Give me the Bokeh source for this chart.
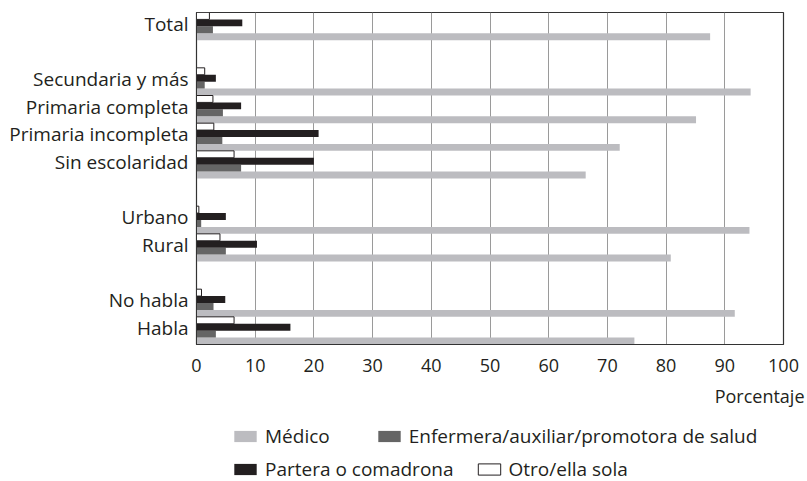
from bokeh.plotting import figure
from bokeh.layouts import column
from bokeh.models import (ColumnDataSource, Range1d, FixedTicker, Legend, LegendItem, Title)
from bokeh.embed import file_html
from bokeh.resources import INLINE

# ---- data ----
groups = [
    ["Total"],
    ["Secundaria y más", "Primaria completa", "Primaria incompleta", "Sin escolaridad"],
    ["Urbano", "Rural"],
    ["No habla", "Habla"],
]
medico     = [87.5, 94.4, 85.1, 72.1, 66.3, 94.2, 80.8, 91.7, 74.6]
enfermera  = [2.8, 1.4, 4.5, 4.4, 7.6, 0.8, 5.0, 2.9, 3.3]
partera    = [7.8, 3.3, 7.6, 20.8, 20.0, 5.0, 10.3, 4.9, 16.0]
otro       = [2.2, 1.4, 2.8, 2.95, 6.4, 0.4, 4.0, 0.85, 6.4]
series_names = ["Médico", "Enfermera/auxiliar/promotora de salud",
                "Partera o comadrona", "Otro/ella sola"]
x_ticks = list(range(0, 101, 10))
x_title = "Porcentaje"

# ---- layout of slots (top to bottom, one empty slot between groups) ----
categories = []
slot_index = []
slot = 0
for gi, g in enumerate(groups):
    if gi > 0:
        slot += 1
    for c in g:
        categories.append(c)
        slot_index.append(slot)
        slot += 1
n_slots = slot
centers = [n_slots - s - 0.5 for s in slot_index]
label_pos = [c + 0.1 for c in centers]

bar_h = 0.25
offsets = [-0.375, -0.125, 0.125, 0.375]  # medico, enfermera, partera, otro

TXT = "#231f20"
FONT = "Open Sans"
COLORS = ["#bcbcc0", "#656565", "#231f20", "white"]
LINES = [None, None, None, "#231f20"]
W, TOP_H, TOTAL_H = 807, 383, 481

p = figure(output_backend="svg", toolbar_location=None,
           width=W, height=TOP_H,
           min_border_left=196, min_border_right=24, min_border_top=12,
           min_border_bottom=39,
           x_range=Range1d(0, 100), y_range=Range1d(0, n_slots))
p.background_fill_color = "white"
p.border_fill_color = "white"
p.outline_line_color = "#333333"
p.outline_line_width = 1.2

src = ColumnDataSource(dict(
    y_med=[c + offsets[0] for c in centers],
    y_enf=[c + offsets[1] for c in centers],
    y_par=[c + offsets[2] for c in centers],
    y_otr=[c + offsets[3] for c in centers],
    medico=medico, enfermera=enfermera, partera=partera, otro=otro,
))
ycols = ["y_med", "y_enf", "y_par", "y_otr"]
xcols = ["medico", "enfermera", "partera", "otro"]

for ycol, xcol, fc, lc in zip(ycols, xcols, COLORS, LINES):
    p.hbar(y=ycol, left=0, right=xcol, height=bar_h, source=src,
           fill_color=fc, line_color=lc, line_width=1)

# grid
p.ygrid.visible = False
p.xgrid.ticker = FixedTicker(ticks=x_ticks)
p.xgrid.grid_line_color = "#9a9a9a"
p.xgrid.grid_line_width = 1

# x axis
xa = p.xaxis[0]
xa.ticker = FixedTicker(ticks=x_ticks)
xa.major_tick_out = 0
xa.major_tick_in = 0
xa.minor_tick_out = 0
xa.minor_tick_in = 0
xa.axis_line_color = "#333333"
xa.major_label_text_font = FONT
xa.major_label_text_font_size = "18px"
xa.major_label_text_color = TXT
xa.major_label_standoff = 14

# y axis
ya = p.yaxis[0]
ya.ticker = FixedTicker(ticks=label_pos)
ya.major_label_overrides = {c: lab for c, lab in zip(label_pos, categories)}
ya.major_tick_out = 0
ya.major_tick_in = 0
ya.minor_tick_out = 0
ya.minor_tick_in = 0
ya.axis_line_color = "#333333"
ya.major_label_text_font = FONT
ya.major_label_text_font_size = "19px"
ya.major_label_text_color = TXT
ya.major_label_standoff = 8

# ---- lower panel: axis title + legend ----
q = figure(output_backend="svg", toolbar_location=None,
           width=W, height=TOTAL_H - TOP_H,
           min_border_left=196, min_border_right=24, min_border_top=20,
           min_border_bottom=0,
           x_range=Range1d(0, 100), y_range=Range1d(0, n_slots),
           x_axis_type=None, y_axis_type=None)
q.grid.visible = False
q.outline_line_color = None
q.background_fill_color = "white"
q.border_fill_color = "white"

q.add_layout(Title(text=x_title, align="right", offset=-21, standoff=0,
                   vertical_align="top",
                   text_font=FONT, text_font_size="18px", text_font_style="normal",
                   text_color=TXT), "above")

legend_rs = []
for ycol, xcol, fc, lc in zip(ycols, xcols, COLORS, LINES):
    legend_rs.append(q.hbar(y=ycol, left=0, right=xcol, height=bar_h, source=src,
                            fill_color=fc, line_color=lc, line_width=1, visible=False))

def make_legend(items, loc, spacing):
    return Legend(items=items, location=loc, orientation="horizontal",
                  glyph_width=28, glyph_height=14, label_standoff=6,
                  spacing=spacing, padding=0, margin=0,
                  border_line_color=None, background_fill_alpha=0,
                  label_text_font=FONT, label_text_font_size="19px",
                  label_text_color=TXT, label_height=20,
                  inactive_fill_alpha=0)

leg1 = make_legend([LegendItem(label=series_names[0], renderers=[legend_rs[0]]),
                    LegendItem(label=series_names[1], renderers=[legend_rs[1]])],
                   (35, 32), 45)
leg2 = make_legend([LegendItem(label=series_names[2], renderers=[legend_rs[2]]),
                    LegendItem(label=series_names[3], renderers=[legend_rs[3]])],
                   (35, -1), 21)
q.add_layout(leg1)
q.add_layout(leg2)

layout = column(p, q, spacing=0)
open("out.html", "w").write(file_html(layout, INLINE))
